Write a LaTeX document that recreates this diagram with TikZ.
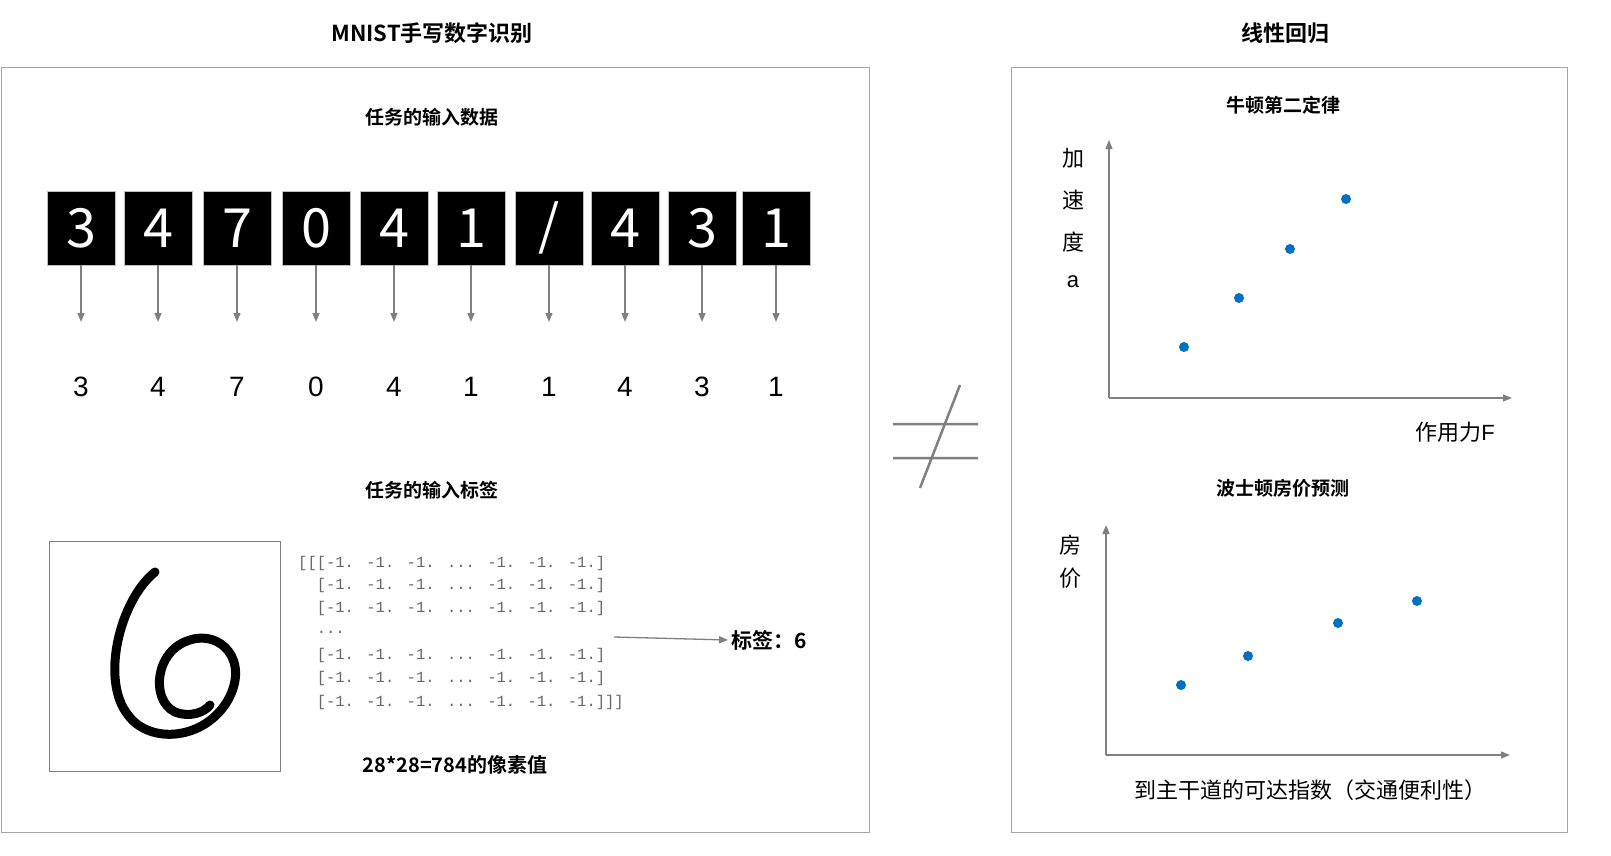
\documentclass[tikz,border=0pt]{standalone}
\usepackage{fontspec}
\setmainfont{Noto Sans CJK SC}[BoldFont={Noto Sans CJK SC Bold}]
\newfontfamily\arial{Liberation Sans}
\newfontfamily\mono{Liberation Mono}
\usetikzlibrary{arrows.meta}
\definecolor{ln}{RGB}{128,128,128}
\definecolor{dot}{RGB}{0,112,192}
\tikzset{
  x=1pt,y=-1pt,
  panel/.style={draw=ln!70,line width=0.8pt},
  ttl/.style={font=\fontsize{22}{26}\selectfont\bfseries},
  sub/.style={font=\fontsize{19}{23}\selectfont\bfseries},
  arr/.style={draw=ln,line width=1.3pt,-{Triangle[length=9pt,width=7pt]}},
  dig/.style={fill=black,draw=ln!50,minimum width=68pt,minimum height=74pt,inner sep=0pt,text=white,font=\fontsize{54}{54}\selectfont},
  num/.style={font=\arial\fontsize{28}{30}\selectfont},
  mat/.style={font=\mono\fontsize{15.5}{17}\selectfont,text=ln!80!black,anchor=west,inner sep=0pt},
  pt/.style={fill=dot,circle,minimum size=10pt,inner sep=0pt},
  lab/.style={font=\fontsize{22}{26}\selectfont},
}
\begin{document}
\begin{tikzpicture}
\useasboundingbox (0,0) rectangle (1611,856);
\node[ttl] (t1) at (432,33) {MNIST手写数字识别};
\node[ttl] (t2) at (1285,33) {线性回归};
\draw[panel] (1,67) rectangle (869,832);
\draw[panel] (1011,67) rectangle (1567,832);
\node[sub] (s1) at (432,117) {任务的输入数据};
\foreach \x/\d/\n [count=\i] in {81/3/3,158/4/4,237/7/7,316/0/0,394/4/4,471/1/1,549/\char`\//1,625/4/4,702/3/3,776/1/1}{
  \node[dig] (d\i) at (\x,228) {\d};
  \node[num] (n\i) at (\x,387) {\n};
  \draw[arr] (d\i.south) -- (\x,322);
}
\node[sub] (s2) at (432,490) {任务的输入标签};
\node[draw=ln,line width=1pt,minimum width=231pt,minimum height=230pt] (img) at (165,656) {};
\draw[line width=9pt,line cap=round,line join=round] (155,572) .. controls (120,600) and (100,680) .. (128,715) .. controls (150,745) and (205,740) .. (228,700) .. controls (250,660) and (220,630) .. (190,640) .. controls (155,650) and (150,700) .. (175,712) .. controls (190,718) and (205,712) .. (210,705);
\foreach \t/\y [count=\i] in {{[[[-1. -1. -1. ... -1. -1. -1.]}/563,{\ \ [-1. -1. -1. ... -1. -1. -1.]}/585,{\ \ [-1. -1. -1. ... -1. -1. -1.]}/608,{\ \ ...}/632,{\ \ [-1. -1. -1. ... -1. -1. -1.]}/655,{\ \ [-1. -1. -1. ... -1. -1. -1.]}/678,{\ \ [-1. -1. -1. ... -1. -1. -1.]]]}/702}{
  \node[mat] (m\i) at (298,\y) {\t};
}
\coordinate (ma) at (614,637);
\node[font=\fontsize{21}{25}\selectfont\bfseries,anchor=west] (lbl) at (728,640) {标签：6};
\draw[arr] (ma) -- (lbl.west);
\node[font=\fontsize{20}{24}\selectfont\bfseries] (cap) at (455,765) {28*28=784的像素值};
\draw[ln,line width=2.5pt] (893,424) -- (978,424) (893,458) -- (978,458) (960,385) -- (920,488);
\node[sub] (s3) at (1283,105) {牛顿第二定律};
\coordinate (o1) at (1109,398);
\draw[arr] (o1) -- (1109,140);
\draw[arr] (o1) -- (1512,398);
\foreach \c/\y in {加/158,速/200,度/242}{\node[lab] at (1073,\y) {\c};}
\node[lab,font=\arial\fontsize{22}{26}\selectfont] at (1073,282) {a};
\node[lab] at (1455,432) {作用力\arial F};
\foreach \x/\y in {1184/347,1239/298,1290/249,1346/199}{\node[pt] at (\x,\y) {};}
\node[sub] (s4) at (1283,488) {波士顿房价预测};
\coordinate (o2) at (1106,755);
\draw[arr] (o2) -- (1106,525);
\draw[arr] (o2) -- (1510,755);
\node[lab] at (1070,545) {房};
\node[lab] at (1070,578) {价};
\node[lab] at (1310,790) {到主干道的可达指数（交通便利性）};
\foreach \x/\y in {1181/685,1248/656,1338/623,1417/601}{\node[pt] at (\x,\y) {};}
\end{tikzpicture}
\end{document}
